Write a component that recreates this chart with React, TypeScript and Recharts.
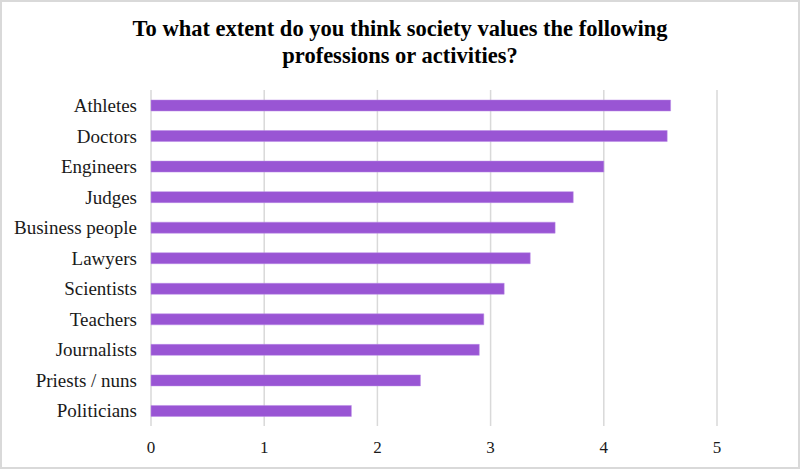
import React from "react";
import { BarChart, Bar, XAxis, YAxis, CartesianGrid } from "recharts";

const categories = [
  "Athletes",
  "Doctors",
  "Engineers",
  "Judges",
  "Business people",
  "Lawyers",
  "Scientists",
  "Teachers",
  "Journalists",
  "Priests / nuns",
  "Politicians",
];
const values = [4.59, 4.56, 4.0, 3.73, 3.57, 3.35, 3.12, 2.94, 2.9, 2.38, 1.77];
const xTicks = [0, 1, 2, 3, 4, 5];

const data = categories.map((name, i) => ({ name, value: values[i] }));

const FONT = '"Liberation Serif", "Times New Roman", serif';

export default function App() {
  return (
    <div
      style={{
        position: "absolute",
        left: 0,
        top: 0,
        width: 800,
        height: 469,
        background: "#fff",
        overflow: "hidden",
      }}
    >
      <div
        style={{
          position: "absolute",
          left: 0,
          top: 0,
          width: 800,
          height: 469,
          boxSizing: "border-box",
          border: "2px solid #d9d9d9",
          pointerEvents: "none",
          zIndex: 2,
        }}
      />
      <div
        style={{
          position: "absolute",
          left: 0,
          top: 15,
          width: 800,
          textAlign: "center",
          fontFamily: FONT,
          fontWeight: "bold",
          fontSize: 22.5,
          lineHeight: "27px",
          color: "#000",
        }}
      >
        To what extent do you think society values the following
        <br />
        professions or activities?
      </div>
      <BarChart
        width={800}
        height={469}
        data={data}
        layout="vertical"
        margin={{ top: 90, right: 83, bottom: 0, left: 0 }}
        barCategoryGap={10}
      >
        <CartesianGrid horizontal={false} vertical={true} stroke="#d9d9d9" strokeWidth={1.5} />
        <XAxis
          type="number"
          domain={[0, 5]}
          ticks={xTicks}
          axisLine={false}
          tickLine={false}
          tickMargin={9}
          height={43}
          tick={{ fill: "#1a1a1a", fontSize: 17, fontFamily: FONT }}
        />
        <YAxis
          type="category"
          dataKey="name"
          width={151}
          axisLine={false}
          tickLine={false}
          tickMargin={8}
          interval={0}
          tick={{ fill: "#1a1a1a", fontSize: 19, fontFamily: FONT }}
        />
        <Bar
          dataKey="value"
          fill="#9955d4"
          stroke="#b98ae6"
          strokeWidth={0.5}
          barSize={11}
          isAnimationActive={false}
        />
      </BarChart>
    </div>
  );
}
